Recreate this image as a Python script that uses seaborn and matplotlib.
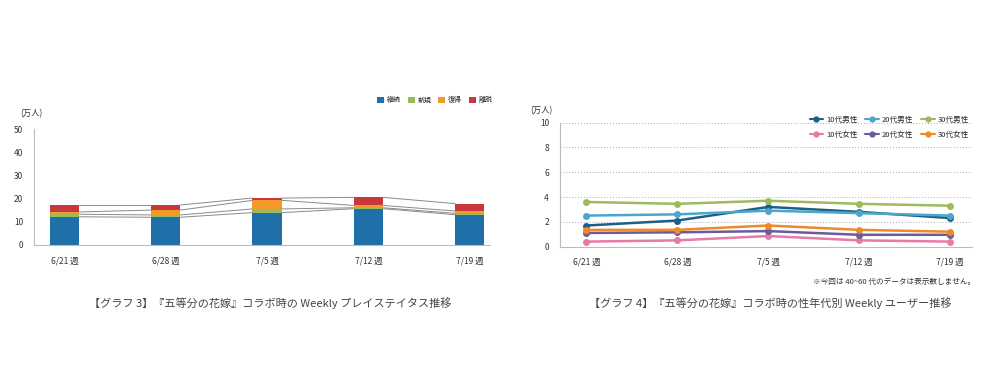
import numpy as np
import pandas as pd
import matplotlib
matplotlib.use("Agg")
from matplotlib import pyplot as plt
from matplotlib.lines import Line2D
from matplotlib.patches import Patch
import seaborn as sns

# data
weeks = ["6/21 週", "6/28 週", "7/5 週", "7/12 週", "7/19 週"]

status_names = ["継続", "新規", "復帰", "離脱"]
keizoku = [12.2, 12.0, 14.0, 15.7, 13.1]
shinki = [1.1, 1.0, 1.6, 0.4, 0.6]
fukki = [1.0, 2.1, 3.7, 1.0, 1.0]
ridatsu = [3.0, 2.2, 1.0, 3.5, 3.2]
status_colors = ["#1f6fa8", "#9bbb59", "#f39a2b", "#c8373b"]

age_names = ["10代男性", "20代男性", "30代男性", "10代女性", "20代女性", "30代女性"]
m10 = [1.7, 2.1, 3.2, 2.8, 2.3]
m20 = [2.5, 2.6, 2.9, 2.7, 2.5]
m30 = [3.6, 3.45, 3.7, 3.45, 3.3]
f10 = [0.4, 0.5, 0.85, 0.5, 0.4]
f20 = [1.1, 1.15, 1.25, 0.95, 0.95]
f30 = [1.35, 1.35, 1.7, 1.35, 1.2]
age_colors = ["#1d5f86", "#4aa6cc", "#9dbb5e", "#e879a8", "#6b5b9c", "#ee8a2a"]

sns.set_style("white")
plt.rcParams["font.family"] = ["Noto Sans CJK JP", "DejaVu Sans"]
txt = "#333333"

fig = plt.figure(figsize=(10, 3.92), dpi=100)
ax1 = fig.add_axes([0.034, 0.375, 0.456, 0.295])
ax2 = fig.add_axes([0.560, 0.371, 0.412, 0.316])

# ---- graph 3: stacked bars ----
layers = [keizoku, shinki, fukki, ridatsu]
cum = np.cumsum(np.array(layers), axis=0)
bw = 0.29
for i in range(3, -1, -1):
    d = pd.DataFrame({"week": weeks, "value": cum[i]})
    sns.barplot(data=d, x="week", y="value", color=status_colors[i], width=bw,
                saturation=1, ax=ax1, errorbar=None, edgecolor="none")
# thin connector lines between segment tops
xs = np.arange(len(weeks))
for i in range(4):
    for k in range(len(weeks) - 1):
        ax1.plot([xs[k] + bw / 2, xs[k + 1] - bw / 2], [cum[i][k], cum[i][k + 1]],
                 color="#8a8a8a", lw=0.7, zorder=1)
ax1.set_xlim(-0.3, 4.2)
ax1.set_ylim(0, 50)
ax1.set_yticks([0, 10, 20, 30, 40, 50])
ax1.set_xlabel("")
ax1.set_ylabel("")
for s in ["top", "right"]:
    ax1.spines[s].set_visible(False)
for s in ["left", "bottom"]:
    ax1.spines[s].set_color("#bbbbbb")
    ax1.spines[s].set_linewidth(0.8)
ax1.tick_params(axis="both", labelsize=6, colors=txt, length=0, pad=8)
fig.text(0.020, 1 - 114 / 392, "(万人)", fontsize=6, color=txt, va="center")
h1 = [Patch(facecolor=c, edgecolor="none") for c in status_colors]
ax1.legend(h1, status_names, ncol=4, frameon=False, fontsize=5, loc="center right",
           bbox_to_anchor=(1.02, 1.25), handlelength=1.0, handleheight=1.0,
           columnspacing=1.0, handletextpad=0.4)

# ---- graph 4: lines ----
long = pd.DataFrame({
    "x": list(xs) * 6,
    "value": m10 + m20 + m30 + f10 + f20 + f30,
    "group": sum([[n] * 5 for n in age_names], []),
})
sns.lineplot(data=long, x="x", y="value", hue="group", hue_order=age_names,
             palette=age_colors, marker="o", markersize=5, markeredgewidth=0,
             linewidth=1.8, ax=ax2, legend=False)
ax2.set_xlim(-0.29, 4.24)
ax2.set_ylim(0, 10)
ax2.set_yticks([0, 2, 4, 6, 8, 10])
ax2.set_xticks(xs)
ax2.set_xticklabels(weeks)
ax2.set_xlabel("")
ax2.set_ylabel("")
ax2.grid(axis="y", linestyle=(0, (1, 2)), color="#aaaaaa", lw=0.7)
for s in ["top", "right"]:
    ax2.spines[s].set_visible(False)
for s in ["left", "bottom"]:
    ax2.spines[s].set_color("#bbbbbb")
    ax2.spines[s].set_linewidth(0.8)
ax2.tick_params(axis="both", labelsize=6, colors=txt, length=0, pad=8)
fig.text(0.530, 1 - 111 / 392, "(万人)", fontsize=6, color=txt, va="center")
# legend filled column-first, so reorder to read row by row
order = [0, 3, 1, 4, 2, 5]
h2 = [Line2D([], [], color=age_colors[j], marker="o", markersize=3.5, lw=1.5) for j in order]
ax2.legend(h2, [age_names[j] for j in order], ncol=3, frameon=False, fontsize=5.5,
           loc="upper right", bbox_to_anchor=(1.01, 1.11), handlelength=1.8,
           columnspacing=1.0, handletextpad=0.4, labelspacing=0.9)
fig.text(0.975, 0.28, "※今回は 40~60 代のデータは表示数しません。", fontsize=5.5,
         color=txt, ha="right", va="center")

# titles
fig.text(0.27, 0.228, "【グラフ 3】『五等分の花嫁』コラボ時の Weekly プレイステイタス推移",
         fontsize=8, color="#444444", ha="center", va="center")
fig.text(0.77, 0.228, "【グラフ 4】『五等分の花嫁』コラボ時の性年代別 Weekly ユーザー推移",
         fontsize=8, color="#444444", ha="center", va="center")

fig.savefig("out.png", dpi=100, facecolor="white")
